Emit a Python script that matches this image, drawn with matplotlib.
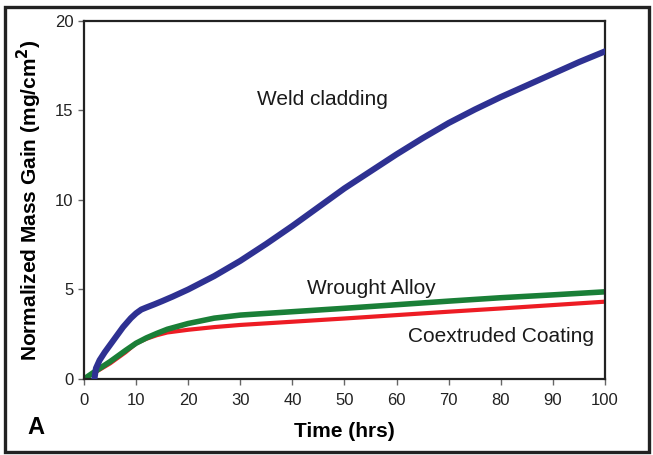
import matplotlib.pyplot as plt
from matplotlib.patches import Rectangle

plt.rcParams['font.family'] = ['Liberation Sans', 'DejaVu Sans']

# data
t_weld = [2, 2.3, 3, 4, 5, 6, 7.5, 9, 10, 11, 12, 13.5, 15, 17, 20, 25, 30, 35, 40, 45, 50, 55, 60, 65, 70, 75, 80, 85, 90, 95, 100]
weld = [0.0, 0.6, 1.05, 1.5, 1.9, 2.3, 2.9, 3.4, 3.67, 3.88, 4.0, 4.17, 4.35, 4.6, 5.0, 5.75, 6.6, 7.55, 8.55, 9.6, 10.65, 11.6, 12.55, 13.45, 14.3, 15.05, 15.75, 16.4, 17.05, 17.7, 18.3]

t_wrought = [0, 2, 5, 8, 10, 12, 14, 16, 20, 25, 30, 40, 50, 60, 70, 80, 90, 100]
wrought = [0.0, 0.4, 0.97, 1.6, 2.0, 2.3, 2.55, 2.78, 3.1, 3.4, 3.57, 3.76, 3.95, 4.15, 4.35, 4.54, 4.7, 4.87]

t_coex = [0, 2, 5, 8, 10, 12, 14, 16, 20, 25, 30, 40, 50, 60, 70, 80, 90, 100]
coex = [0.0, 0.35, 0.87, 1.5, 1.99, 2.25, 2.45, 2.6, 2.75, 2.9, 3.02, 3.2, 3.38, 3.57, 3.76, 3.94, 4.13, 4.32]

fig = plt.figure(figsize=(6.53, 4.55), dpi=100)
ax = fig.add_axes([0.1286, 0.167, 0.7979, 0.787])

ax.plot(t_weld, weld, color='#2e3192', lw=4.4, solid_capstyle='round', solid_joinstyle='round', zorder=3)
ax.plot(t_coex, coex, color='#ed1c24', lw=3.0, solid_capstyle='round', solid_joinstyle='round', zorder=2)
ax.plot(t_wrought, wrought, color='#1a7f37', lw=4.0, solid_capstyle='round', solid_joinstyle='round', zorder=2)

ax.text(45.7, 15.6, 'Weld cladding', fontsize=15, ha='center', va='center', color='#1a1a1a')
ax.text(55.1, 5.06, 'Wrought Alloy', fontsize=15, ha='center', va='center', color='#1a1a1a')
ax.text(80.0, 2.36, 'Coextruded Coating', fontsize=15, ha='center', va='center', color='#1a1a1a')

ax.set_xlim(0, 100)
ax.set_ylim(0, 20)
ax.set_xticks(range(0, 101, 10))
ax.set_yticks(range(0, 21, 5))
ax.tick_params(labelsize=12, length=4, width=1, colors='#666666', labelcolor='#222222')
ax.tick_params(axis='x', pad=6)
for s in ax.spines.values():
    s.set_linewidth(1.6)
    s.set_color('#222222')

ax.set_xlabel('Time (hrs)', fontsize=15, fontweight='bold', labelpad=10)
ax.set_ylabel('Normalized Mass Gain (mg/cm$^\\mathbf{2}$)', fontsize=15, fontweight='bold', labelpad=8)

fig.text(36 / 653, 1 - 427 / 455, 'A', fontsize=17, fontweight='bold', ha='center', va='center')
fig.patches.append(Rectangle((5 / 653, 3 / 455), 644 / 653, 445 / 455, transform=fig.transFigure,
                             fill=False, lw=2.4, edgecolor='#222222'))

fig.savefig('out.png', dpi=100)
